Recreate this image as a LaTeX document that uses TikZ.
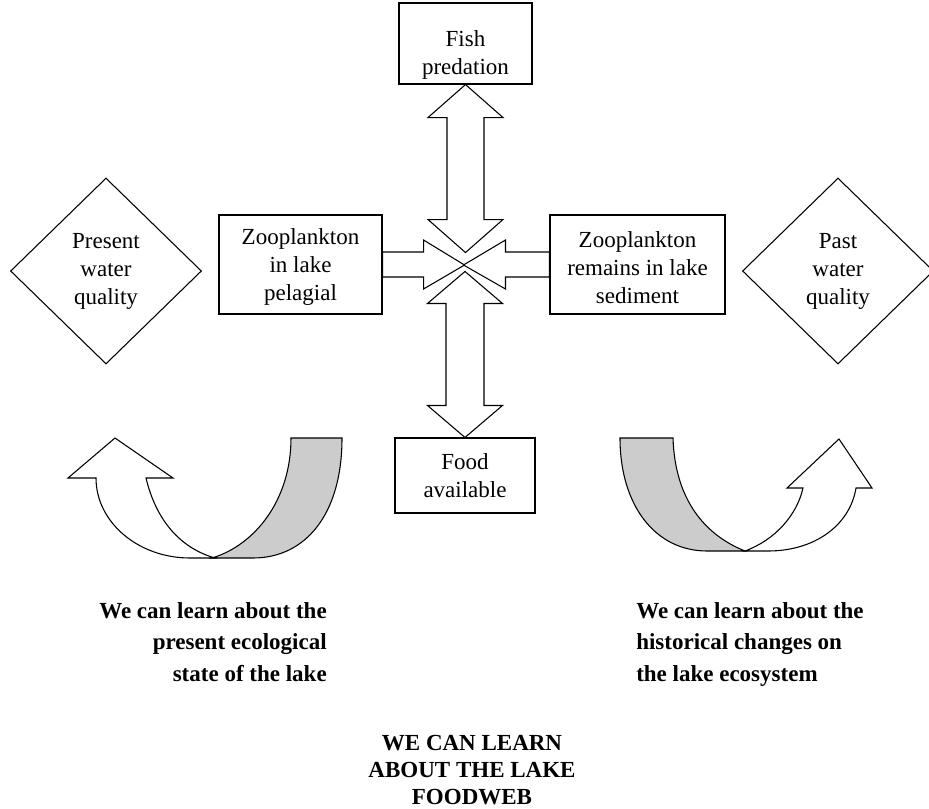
\documentclass[tikz,border=0pt]{standalone}
\usepackage{fontspec}
\setmainfont{Liberation Serif}
\usetikzlibrary{shapes.geometric}
\definecolor{RibbonGrey}{RGB}{204,204,204}
\newcommand{\lakefont}{\fontsize{17.25}{21}\selectfont}
\newcommand{\notefont}{\fontsize{17.25}{23.8}\selectfont\bfseries}
\newcommand{\capsfont}{\fontsize{17.25}{20.25}\selectfont\bfseries}

\begin{document}
\begin{tikzpicture}[
    x=0.75pt, y=-0.75pt,
    box/.style={draw, line width=0.8pt, fill=white, align=center, font=\lakefont, inner sep=0pt},
    gem/.style={diamond, draw, line width=0.8pt, align=center, font=\lakefont, inner sep=0pt,
      minimum width=143.25pt, minimum height=139.5pt},
    block/.style={draw, line width=0.8pt, fill=white, line join=miter},
    ribbon/.style={draw, line width=0.8pt, fill=RibbonGrey},
    note/.style={font=\notefont, inner sep=0pt}
  ]
  \useasboundingbox (0,0) rectangle (929,808);

  % water quality
  \node[gem] (present) at (106,271) {Present\\water\\quality};
  \node[gem] (past) at (838,271) {Past\\water\\quality};

  % foodweb boxes
  \node[box, minimum width=99.75pt, minimum height=60.75pt] (fish) at (465.5,43.5) {\rule{0pt}{29pt}Fish\\predation};
  \node[box, minimum width=105pt, minimum height=56.25pt] (food) at (465,475.5) {Food\\available};
  \node[box, minimum width=122.25pt, minimum height=74.25pt] (pelagial) at (300.5,264.5) {\rule{0pt}{16.3pt}Zooplankton\\in lake\\pelagial};
  \node[box, minimum width=131.25pt, minimum height=74.25pt] (sediment) at (637.5,264.5) {\rule{0pt}{16.3pt}Zooplankton\\remains in lake\\sediment};

  % block arrows
  \draw[block] (pelagial.east) ++(0,-12.5) -- ++(41,0) -- ++(0,-12) -- ++(41,25)
    -- ++(-41,24) -- ++(0,-12) -- ++(-41,0) -- cycle;
  \draw[block] (sediment.west) ++(0,-12.5) -- ++(-44,0) -- ++(0,-12) -- ++(-42,25)
    -- ++(42,24) -- ++(0,-12) -- ++(44,0) -- cycle;
  \draw[block] (fish.south) -- ++(37.5,33) -- ++(-19,0) -- ++(0,102) -- ++(19,0)
    -- ++(-37.5,33) -- ++(-37.5,-33) -- ++(19,0) -- ++(0,-102) -- ++(-19,0) -- cycle;
  \draw[block] (food.north) -- ++(37.5,-32) -- ++(-18.5,0) -- ++(0,-102) -- ++(18.5,0)
    -- ++(-37.5,-32) -- ++(-37.5,32) -- ++(18.5,0) -- ++(0,102) -- ++(-18.5,0) -- cycle;

  % curved arrows
  \draw[block] (146,478) .. controls (156,520) and (180,548) .. (215,558) -- (190,558)
    .. controls (138,558) and (96,522) .. (96,478) -- (68,478) -- (115,438) -- (173,478) -- cycle;
  \draw[ribbon] (342,438) -- (291,438) .. controls (291,500) and (255,545) .. (212,558)
    -- (253,558) .. controls (305,558) and (342,515) .. (342,438) -- cycle;
  \draw[block] (745,551) .. controls (775,540) and (797,515) .. (803,488) -- (787,488)
    -- (839,439) -- (872,488) -- (856,488) .. controls (850,525) and (815,551) .. (768,551) -- cycle;
  \draw[ribbon] (620,438) -- (673,438) .. controls (675,500) and (705,535) .. (745,551)
    -- (707,551) .. controls (655,551) and (620,505) .. (620,438) -- cycle;

  % what we learn
  \node[note, align=right, anchor=north east] (now) at (327,602)
    {We can learn about the\\present ecological\\state of the lake};
  \node[note, align=left, anchor=north west] (then) at (636,602)
    {We can learn about the\\historical changes on\\the lake ecosystem};
  \node[note, font=\capsfont, align=center, anchor=north] (foodweb) at (472,735)
    {WE CAN LEARN\\ABOUT THE LAKE\\FOODWEB};
\end{tikzpicture}
\end{document}
